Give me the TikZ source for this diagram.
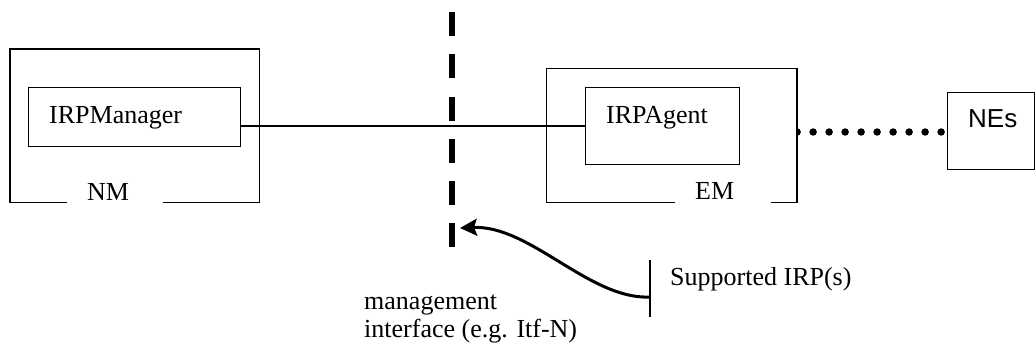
\documentclass[tikz,border=0pt]{standalone}
\usepackage{fontspec}
\setmainfont{Liberation Serif}
\newfontfamily\arialfont{Liberation Sans}
\usetikzlibrary{arrows.meta,calc}
\begin{document}
\begin{tikzpicture}[x=1pt,y=-1pt,
  thinline/.style={line width=1.3pt},
  box/.style={draw, thinline, inner sep=0pt, anchor=north west},
  frame/.style={inner sep=0pt, anchor=north west},
  txt/.style={font=\fontsize{26}{28}\selectfont, inner sep=0pt, anchor=base west},
  itfline/.style={line width=6.5pt, dash pattern=on 24pt off 18.3pt},
  dotline/.style={line width=7.5pt, line cap=round, dash pattern=on 0pt off 16pt},
  curvearrow/.style={line width=3pt, -{Stealth[length=17pt,width=17pt,inset=3pt]}}]
\useasboundingbox (0,0) rectangle (1035,347);
% outer frames
\node[frame, minimum width=249pt, minimum height=153pt] (nm) at (10,49) {};
\node[frame, minimum width=250pt, minimum height=134pt] (em) at (546.7,68.3) {};
\draw[thinline] ($(nm.south west)+(57,0)$) -- (nm.south west) -- (nm.north west)
  -- (nm.north east) -- (nm.south east) -- ($(nm.south east)+(-96,0)$);
\draw[thinline] ($(em.south west)+(128.3,0)$) -- (em.south west) -- (em.north west)
  -- (em.north east) -- (em.south east) -- ($(em.south east)+(-25.7,0)$);
% inner boxes
\node[box, minimum width=212pt, minimum height=59pt] (mgr) at (28,87) {};
\node[box, minimum width=154pt, minimum height=77pt] (agent) at (585,87) {};
\node[box, minimum width=86.5pt, minimum height=77pt] (nes) at (947,92) {};
% texts
\node[txt] (mgrt) at (49,124) {IRPManager};
\node[txt] (nmt) at (87,200.5) {NM};
\node[txt] (agt) at (606,124) {IRPAgent};
\node[txt] (emt) at (695,200) {EM};
\node[txt, font=\arialfont\fontsize{26}{28}\selectfont] (nest) at (968,127.3) {NEs};
\node[txt] (supt) at (670,285) {Supported IRP(s)};
\node[txt] (mg1) at (364,309) {management};
\node[txt] (mg2) at (364,337) {interface (e.g. Itf-N)};
% connector manager - agent
\draw[thinline] (mgr.east |- 0,126) -- (agent.west |- 0,126);
% dotted connector EM - NEs
\begin{scope}
  \clip (em.east |- 0,100) rectangle (nes.west |- 0,160);
  \draw[dotline] (em.east |- 0,132) -- (nes.west |- 0,132);
\end{scope}
% management interface
\coordinate (itop) at (452,12);
\coordinate (ibot) at (452,247.5);
\draw[itfline] (itop) -- (ibot);
% supported IRP bar and arrow
\coordinate (barT) at (650,260);
\coordinate (barB) at (650,317);
\draw[thinline] (barT) -- (barB);
\coordinate (cs) at (650,297);
\coordinate (tip) at (460,228);
\draw[curvearrow] (cs) .. controls (590,300) and (530,225) .. (tip);
\end{tikzpicture}
\end{document}
